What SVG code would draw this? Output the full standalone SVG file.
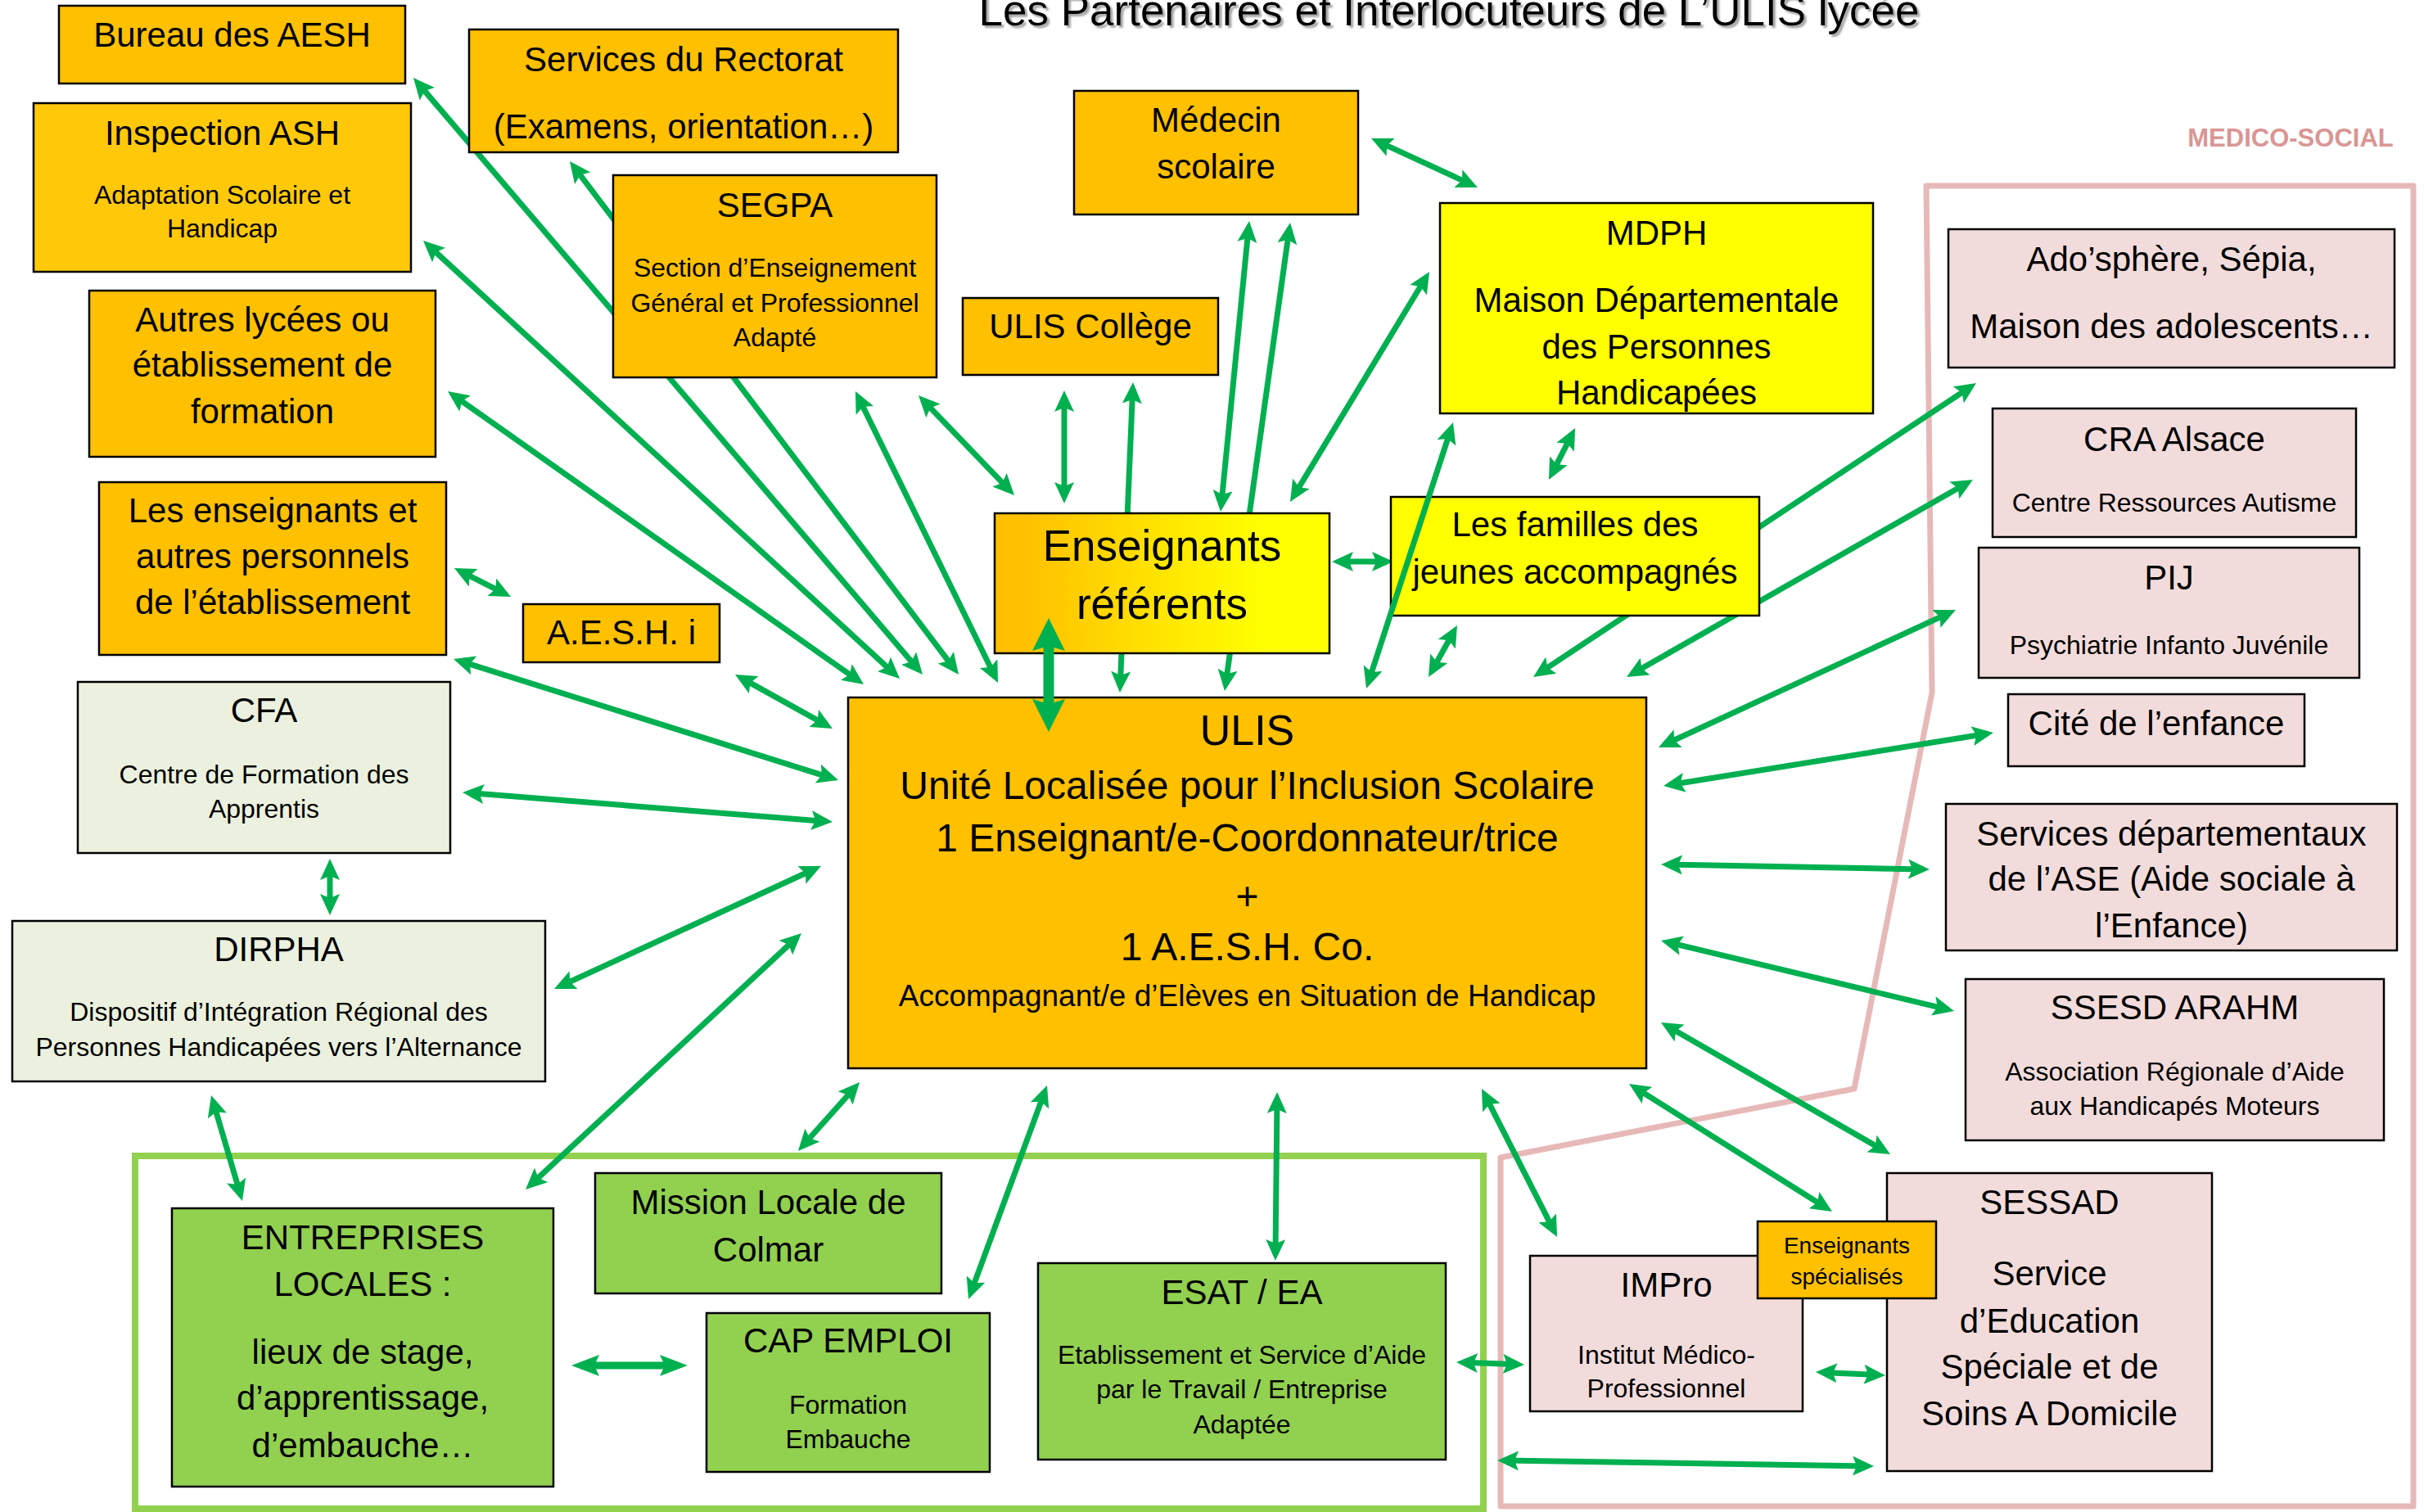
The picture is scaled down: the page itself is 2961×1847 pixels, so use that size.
<svg xmlns="http://www.w3.org/2000/svg" width="2961" height="1847" viewBox="0 0 2961 1847">
<style>
.box{stroke:#000;stroke-width:2.5}
.or{fill:#FFC000}.ye{fill:#FFFF00}.gr{fill:#92D050}.lg{fill:#EBF1DE}.pk{fill:#F2DCDB}
text{font-family:"Liberation Sans",Arial,sans-serif;text-anchor:middle;fill:#000}
.f52{font-size:52px}.f53{font-size:53px}.f48{font-size:48px}.f42{font-size:42px}.f37{font-size:37px}.f32{font-size:32px}.f28{font-size:28px}
.c{stroke:#00B050;stroke-width:7;fill:none;marker-start:url(#ah);marker-end:url(#ah)}
.cw{stroke:#00B050;stroke-width:9;fill:none;marker-start:url(#ahw);marker-end:url(#ahw)}
.cb{stroke:#00B050;stroke-width:13;fill:none;marker-start:url(#ahb);marker-end:url(#ahb)}
</style>
<defs>
<marker id="ah" markerUnits="userSpaceOnUse" markerWidth="26" markerHeight="24" viewBox="0 0 26 24" refX="18" refY="12" orient="auto-start-reverse"><path d="M0,0 L26,12 L0,24 L5,12 z" fill="#00B050"/></marker>
<marker id="ahw" markerUnits="userSpaceOnUse" markerWidth="34" markerHeight="26" viewBox="0 0 34 26" refX="22" refY="13" orient="auto-start-reverse"><path d="M0,0 L34,13 L0,26 L6,13 z" fill="#00B050"/></marker>
<marker id="ahb" markerUnits="userSpaceOnUse" markerWidth="40" markerHeight="40" viewBox="0 0 40 40" refX="26" refY="20" orient="auto-start-reverse"><path d="M0,0 L40,20 L0,40 L6,20 z" fill="#00B050"/></marker>
<linearGradient id="gref" x1="0" y1="0" x2="1" y2="0"><stop offset="0.08" stop-color="#FFC000"/><stop offset="0.8" stop-color="#FFFF00"/></linearGradient>
<filter id="sh" x="-5%" y="-50%" width="110%" height="200%"><feDropShadow dx="3" dy="3" stdDeviation="1" flood-color="#8c8c8c" flood-opacity="0.8"/></filter>
</defs>
<rect width="2961" height="1847" fill="#fff"/>
<text x="1770" y="31" style="font-size:53px" filter="url(#sh)">Les Partenaires et Interlocuteurs de L’ULIS lycée</text>
<g id="medico-social-zone">
<polygon points="2353,227 2948,227 2948,1840 1833,1840 1833,1414 2265,1330 2360,846" fill="none" stroke="#E6B9B8" stroke-width="7" stroke-linejoin="round"/>
<text x="2798" y="179" style="font-size:31px;font-weight:bold;fill:#D99694">MEDICO-SOCIAL</text>
</g>
<g id="insertion-zone">
<rect x="165" y="1412" width="1647" height="431" fill="none" stroke="#92D050" stroke-width="8"/>
</g>
<g id="connectors">
<line class="c" x1="510.2" y1="101.1" x2="1121.8" y2="817.9"/>
<line class="c" x1="522.9" y1="299.4" x2="1093.1" y2="823.6"/>
<line class="c" x1="553.5" y1="482.6" x2="1048.5" y2="831.4"/>
<line class="c" x1="700.8" y1="203.4" x2="1166.2" y2="817.6"/>
<line class="c" x1="1048.5" y1="485.2" x2="1215.5" y2="826.8"/>
<line class="c" x1="1127.5" y1="488.8" x2="1233.5" y2="599.2"/>
<line class="c" x1="562.1" y1="697.6" x2="616.9" y2="725.4"/>
<line class="c" x1="561.6" y1="807.4" x2="1016.4" y2="950.6"/>
<line class="c" x1="905" y1="827.9" x2="1010" y2="886.1"/>
<line class="c" x1="573" y1="968.6" x2="1009" y2="1003.4"/>
<line class="c" x1="684.3" y1="1204.7" x2="995.7" y2="1061.3"/>
<line class="c" x1="647.9" y1="1447.6" x2="973.1" y2="1145.4"/>
<line class="c" x1="403" y1="1057" x2="403" y2="1110"/>
<line class="c" x1="260.3" y1="1345.7" x2="293.7" y2="1459.3"/>
<line class="cw" x1="710" y1="1668" x2="828" y2="1668"/>
<line class="c" x1="980.3" y1="1400" x2="1044.7" y2="1328"/>
<line class="c" x1="1185.8" y1="1579.5" x2="1276.2" y2="1333.5"/>
<line class="c" x1="1558" y1="1532" x2="1560" y2="1342"/>
<line class="c" x1="1898.4" y1="1503.9" x2="1813.6" y2="1337.1"/>
<line class="c" x1="1787" y1="1664.3" x2="1854" y2="1666.7"/>
<line class="c" x1="2226" y1="1676.4" x2="2295" y2="1679.6"/>
<line class="c" x1="1837" y1="1784.1" x2="2281" y2="1790.9"/>
<line class="c" x1="1996.8" y1="1328.3" x2="2231.2" y2="1475.7"/>
<line class="c" x1="2035.9" y1="1253" x2="2302.1" y2="1406"/>
<line class="c" x1="2036.8" y1="1150.9" x2="2379.2" y2="1233.1"/>
<line class="c" x1="2037" y1="1056.1" x2="2349" y2="1061.9"/>
<line class="c" x1="2039.9" y1="958.7" x2="2427.1" y2="896.3"/>
<line class="c" x1="2033.3" y1="909.6" x2="2381.7" y2="748.4"/>
<line class="c" x1="1994" y1="823" x2="2403" y2="590"/>
<line class="c" x1="1879.7" y1="822.6" x2="2407.3" y2="472.4"/>
<line class="c" x1="1776.1" y1="771" x2="1748.9" y2="820"/>
<line class="c" x1="1920.4" y1="530.1" x2="1895.6" y2="578.9"/>
<line class="c" x1="1741.9" y1="338.8" x2="1580.1" y2="606.2"/>
<line class="c" x1="1682.3" y1="172.4" x2="1797.7" y2="225.6"/>
<line class="c" x1="1525.2" y1="278" x2="1491.8" y2="617"/>
<line class="c" x1="1574.9" y1="279.9" x2="1497.1" y2="836.1"/>
<line class="c" x1="1300" y1="485" x2="1300" y2="607"/>
<line class="c" x1="1383.7" y1="475" x2="1368.3" y2="838"/>
<line class="c" x1="1635" y1="686" x2="1694" y2="686"/>
</g>
<g id="bureau-aesh"><rect class="box or" x="72" y="7" width="423" height="95"/><text class="f42" x="283.5" y="57">Bureau des AESH</text></g>
<g id="rectorat"><rect class="box or" x="573" y="36" width="524" height="150"/><text class="f42" x="835" y="87">Services du Rectorat</text><text class="f42" x="835" y="169">(Examens, orientation…)</text></g>
<g id="inspection-ash"><rect class="box" x="41" y="126" width="461" height="206" fill="#FFC90A"/><text class="f42" x="271.5" y="177">Inspection ASH</text><text class="f32" x="271.5" y="249">Adaptation Scolaire et</text><text class="f32" x="271.5" y="290">Handicap</text></g>
<g id="autres-lycees"><rect class="box or" x="109" y="355" width="423" height="203"/><text class="f42" x="320.5" y="405">Autres lycées ou</text><text class="f42" x="320.5" y="460">établissement de</text><text class="f42" x="320.5" y="517">formation</text></g>
<g id="segpa"><rect class="box or" x="749" y="214" width="395" height="247"/><text class="f42" x="946.5" y="265">SEGPA</text><text class="f32" x="946.5" y="338">Section d’Enseignement</text><text class="f32" x="946.5" y="381">Général et Professionnel</text><text class="f32" x="946.5" y="423">Adapté</text></g>
<g id="ulis-college"><rect class="box or" x="1176" y="364" width="312" height="94"/><text class="f42" x="1332" y="413">ULIS Collège</text></g>
<g id="medecin-scolaire"><rect class="box or" x="1312" y="111" width="347" height="151"/><text class="f42" x="1485.5" y="161">Médecin</text><text class="f42" x="1485.5" y="218">scolaire</text></g>
<g id="mdph"><rect class="box ye" x="1759" y="248" width="529" height="257"/><text class="f42" x="2023.5" y="299">MDPH</text><text class="f42" x="2023.5" y="381">Maison Départementale</text><text class="f42" x="2023.5" y="438">des Personnes</text><text class="f42" x="2023.5" y="494">Handicapées</text></g>
<g id="enseignants-referents"><rect class="box" x="1215" y="627" width="409" height="171" fill="url(#gref)"/><text class="f53" x="1419.5" y="685">Enseignants</text><text class="f53" x="1419.5" y="756">référents</text></g>
<g id="familles"><rect class="box ye" x="1699" y="607" width="450" height="145"/><text class="f42" x="1924" y="655">Les familles des</text><text class="f42" x="1924" y="713">jeunes accompagnés</text></g>
<g id="ulis"><rect class="box or" x="1036" y="852" width="975" height="453"/><text class="f52" x="1523.5" y="910">ULIS</text><text class="f48" x="1523.5" y="976">Unité Localisée pour l’Inclusion Scolaire</text><text class="f48" x="1523.5" y="1040">1 Enseignant/e-Coordonnateur/trice</text><text class="f48" x="1523.5" y="1111">+</text><text class="f48" x="1523.5" y="1173">1 A.E.S.H. Co.</text><text class="f37" x="1523.5" y="1229">Accompagnant/e d’Elèves en Situation de Handicap</text></g>
<g id="aesh-i"><rect class="box or" x="639" y="738" width="240" height="71"/><text class="f42" x="759" y="787">A.E.S.H. i</text></g>
<g id="enseignants-etablissement"><rect class="box or" x="121" y="589" width="424" height="211"/><text class="f42" x="333" y="638">Les enseignants et</text><text class="f42" x="333" y="694">autres personnels</text><text class="f42" x="333" y="750">de l’établissement</text></g>
<g id="cfa"><rect class="box lg" x="95" y="833" width="455" height="209"/><text class="f42" x="322.5" y="882">CFA</text><text class="f32" x="322.5" y="957">Centre de Formation des</text><text class="f32" x="322.5" y="999">Apprentis</text></g>
<g id="dirpha"><rect class="box lg" x="15" y="1125" width="651" height="196"/><text class="f42" x="340.5" y="1174">DIRPHA</text><text class="f32" x="340.5" y="1247">Dispositif d’Intégration Régional des</text><text class="f32" x="340.5" y="1290">Personnes Handicapées vers l’Alternance</text></g>
<g id="entreprises"><rect class="box gr" x="210" y="1476" width="466" height="340"/><text class="f42" x="443" y="1526">ENTREPRISES</text><text class="f42" x="443" y="1583">LOCALES :</text><text class="f42" x="443" y="1666">lieux de stage,</text><text class="f42" x="443" y="1722">d’apprentissage,</text><text class="f42" x="443" y="1780">d’embauche…</text></g>
<g id="mission-locale"><rect class="box gr" x="727" y="1433" width="423" height="147"/><text class="f42" x="938.5" y="1483">Mission Locale de</text><text class="f42" x="938.5" y="1541">Colmar</text></g>
<g id="cap-emploi"><rect class="box gr" x="863" y="1604" width="346" height="194"/><text class="f42" x="1036" y="1652">CAP EMPLOI</text><text class="f32" x="1036" y="1727">Formation</text><text class="f32" x="1036" y="1769">Embauche</text></g>
<g id="esat-ea"><rect class="box gr" x="1268" y="1543" width="498" height="240"/><text class="f42" x="1517" y="1593">ESAT / EA</text><text class="f32" x="1517" y="1666">Etablissement et Service d’Aide</text><text class="f32" x="1517" y="1708">par le Travail / Entreprise</text><text class="f32" x="1517" y="1751">Adaptée</text></g>
<g id="impro"><rect class="box pk" x="1869" y="1534" width="333" height="190"/><text class="f42" x="2035.5" y="1584">IMPro</text><text class="f32" x="2035.5" y="1666">Institut Médico-</text><text class="f32" x="2035.5" y="1707">Professionnel</text></g>
<g id="sessad"><rect class="box pk" x="2305" y="1433" width="397" height="364"/><text class="f42" x="2503.5" y="1483">SESSAD</text><text class="f42" x="2503.5" y="1570">Service</text><text class="f42" x="2503.5" y="1628">d’Education</text><text class="f42" x="2503.5" y="1684">Spéciale et de</text><text class="f42" x="2503.5" y="1741">Soins A Domicile</text></g>
<g id="enseignants-specialises"><rect class="box or" x="2147" y="1492" width="218" height="94"/><text class="f28" x="2256" y="1531">Enseignants</text><text class="f28" x="2256" y="1569">spécialisés</text></g>
<g id="adosphere"><rect class="box pk" x="2380" y="280" width="545" height="169"/><text class="f42" x="2652.5" y="331">Ado’sphère, Sépia,</text><text class="f42" x="2652.5" y="413">Maison des adolescents…</text></g>
<g id="cra-alsace"><rect class="box pk" x="2434" y="499" width="444" height="157"/><text class="f42" x="2656" y="551">CRA Alsace</text><text class="f32" x="2656" y="625">Centre Ressources Autisme</text></g>
<g id="pij"><rect class="box pk" x="2417" y="669" width="465" height="159"/><text class="f42" x="2649.5" y="720">PIJ</text><text class="f32" x="2649.5" y="799">Psychiatrie Infanto Juvénile</text></g>
<g id="cite-enfance"><rect class="box pk" x="2453" y="848" width="362" height="88"/><text class="f42" x="2634" y="898">Cité de l’enfance</text></g>
<g id="ase"><rect class="box pk" x="2377" y="982" width="551" height="179"/><text class="f42" x="2652.5" y="1033">Services départementaux</text><text class="f42" x="2652.5" y="1088">de l’ASE (Aide sociale à</text><text class="f42" x="2652.5" y="1145">l’Enfance)</text></g>
<g id="ssesd-arahm"><rect class="box pk" x="2401" y="1196" width="511" height="197"/><text class="f42" x="2656.5" y="1245">SSESD ARAHM</text><text class="f32" x="2656.5" y="1320">Association Régionale d’Aide</text><text class="f32" x="2656.5" y="1362">aux Handicapés Moteurs</text></g>
<g id="connectors-front">
<line class="c" x1="1772.5" y1="523.6" x2="1671.5" y2="833.4"/>
<line class="cb" x1="1281" y1="769" x2="1281" y2="880"/>
</g>
</svg>
